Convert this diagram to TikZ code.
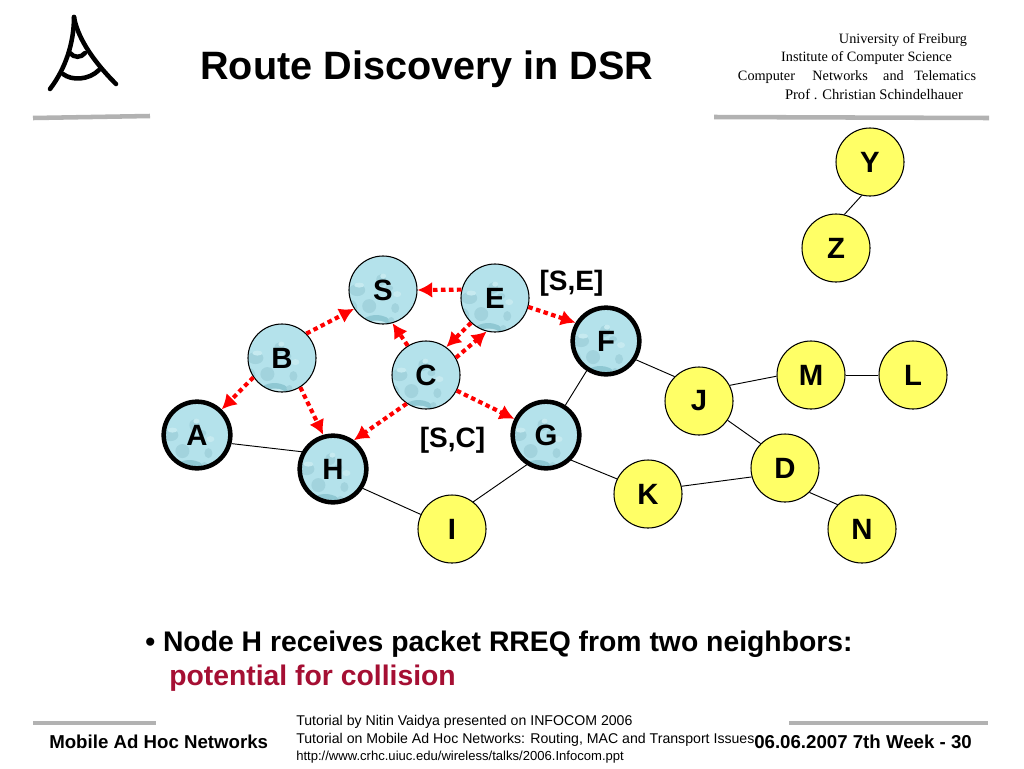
\documentclass[tikz,border=0pt]{standalone}
\usepackage{fontspec}
\setmainfont{Liberation Sans}
\newfontfamily\serifhead{Liberation Serif}
\usetikzlibrary{arrows.meta}
\definecolor{bubblebase}{HTML}{B4E2EB}
\definecolor{bubbledark}{HTML}{A2D3DD}
\definecolor{bubbledeep}{HTML}{8FC8D3}
\definecolor{bubblelight}{HTML}{C6EAF0}
\definecolor{nodeyellow}{HTML}{FFFF66}
\definecolor{barGray}{HTML}{B2B2B2}
\definecolor{accent}{HTML}{A50F33}
\newcommand{\bubblefill}{%
  \begin{scope}[shift={(path picture bounding box.center)}]
    \fill[bubbledark] (-16,-10) ellipse (8 and 6);
    \fill[bubblelight] (-14,-15) ellipse (5 and 2.5);
    \fill[bubbledark] (8,-20) ellipse (5 and 6);
    \fill[bubblelight] (10,-24) ellipse (3 and 2.5);
    \fill[bubbledark] (-22,8) ellipse (6 and 8);
    \fill[bubbledark] (-4,6) ellipse (7 and 7);
    \fill[bubbledeep] (3,22) ellipse (14 and 7);
    \fill[bubblelight] (3,24) ellipse (10 and 3.5);
    \fill[bubbledark] (22,8) ellipse (4 and 5);
    \fill[bubblelight] (24,-6) ellipse (4 and 3);
    \fill[bubbledark] (16,-12) ellipse (4 and 3);
    \fill[bubbledark] (18,20) ellipse (3 and 3);
    \fill[bubblelight] (-12,20) ellipse (3 and 3);
  \end{scope}}
\tikzset{
  x=0.75pt,y=-0.75pt,
  netnode/.style={circle,draw=black,minimum size=51pt,inner sep=0pt,font=\fontsize{22}{22}\selectfont\bfseries},
  thin ring/.style={line width=0.8pt},
  heavy ring/.style={line width=3.4pt,minimum size=50pt},
  yellownode/.style={netnode,thin ring,fill=nodeyellow},
  bluenode/.style={netnode,thin ring,fill=bubblebase,path picture={\bubblefill}},
  bluebold/.style={netnode,heavy ring,fill=bubblebase,path picture={\bubblefill}},
  link/.style={draw=black,line width=0.7pt},
  rreq/.style={draw=red,line width=3.1pt,dash pattern=on 3.4pt off 2.6pt,-{Latex[length=11pt,width=12pt]}},
  bar/.style={draw=barGray,line width=3.4pt},
  logo/.style={draw=black,line width=3.4pt,line cap=round},
  txt/.style={anchor=base west,inner sep=0pt},
  headline/.style={anchor=base,inner sep=0pt,font=\serifhead\fontsize{10.7}{10.7}\selectfont},
  foot/.style={txt,font=\fontsize{10.6}{10.6}\selectfont},
  footbold/.style={txt,font=\fontsize{14}{14}\selectfont\bfseries},
  bodytext/.style={txt,font=\fontsize{21.25}{21.25}\selectfont\bfseries},
  pathlabel/.style={anchor=base,inner sep=0pt,font=\fontsize{21}{21}\selectfont\bfseries}
}
\begin{document}
\begin{tikzpicture}
\useasboundingbox (0,0) rectangle (1024,768);
\fill[white] (0,0) rectangle (1024,768);
% logo
\draw[logo] (74,17) .. controls (74,42) and (66,68) .. (50,89);
\draw[logo] (74,17) .. controls (77,35) and (90,58) .. (116,84);
\draw[logo] (70,53) .. controls (74,58) and (81,58) .. (85,53);
\draw[logo] (63,74) .. controls (72,81) and (89,80) .. (99,70);
% rules
\draw[bar] (33,118) -- (150,116);
\draw[bar] (714,117) -- (989,118);
\draw[bar] (33,723) -- (156,723);
\draw[bar] (789,723) -- (988,723);
% header
\node[txt,font=\fontsize{29.7}{29.7}\selectfont\bfseries] (title) at (200,79) {Route Discovery in DSR};
\node[headline] (h1) at (903,43) {University of Freiburg};
\node[headline] (h2) at (866.5,61) {Institute of Computer Science};
\node[headline] (h3) at (857,80) {Computer\hspace{13pt}Networks\hspace{11.5pt}and\hspace{8pt}Telematics};
\node[headline,font=\serifhead\fontsize{10.95}{10.95}\selectfont] (h4) at (874,99) {Prof . Christian Schindelhauer};
% nodes
\node[yellownode] (Y) at (870,162) {Y};
\node[yellownode] (Z) at (836,248) {Z};
\node[bluenode] (S) at (383,290) {S};
\node[bluenode] (E) at (495,298) {E};
\node[bluenode] (B) at (282,358) {B};
\node[bluenode] (C) at (426,375) {C};
\node[bluebold] (F) at (606,341) {F};
\node[bluebold] (A) at (197,435) {A};
\node[bluebold] (H) at (333,469) {H};
\node[bluebold] (G) at (546,435) {G};
\node[yellownode] (J) at (699,401) {J};
\node[yellownode] (M) at (811,375) {M};
\node[yellownode] (L) at (913,375) {L};
\node[yellownode] (D) at (785,468) {D};
\node[yellownode] (K) at (648,494) {K};
\node[yellownode] (I) at (452,529) {I};
\node[yellownode] (N) at (862,529) {N};
% links
\draw[link] (Y.256) -- (Z.76);
\draw[link] (F.237) -- (G.57);
\draw[link] (F.-32) -- (J.135);
\draw[link] (J.27) -- (M.182);
\draw[link] (M) -- (L);
\draw[link] (J.-34) -- (D.135);
\draw[link] (D.195) -- (K.13);
\draw[link] (D.-45) -- (N.135);
\draw[link] (G.-45) -- (K.154);
\draw[link] (G.237) -- (I.52);
\draw[link] (H.-33) -- (I.155);
\draw[link] (A.-14) -- (H.151);
% RREQ
\draw[rreq] (B.45) -- (S.213);
\draw[rreq] (E.166) -- (S.0);
\draw[rreq] (C.122) -- (S.-74);
\draw[rreq] (E.226) -- (C.54);
\draw[rreq] (C.30) -- (E.256);
\draw[rreq] (E.-15) -- (F.149);
\draw[rreq] (C.-27) -- (G.153);
\draw[rreq] (C.236) -- (H.54);
\draw[rreq] (B.214) -- (A.46);
\draw[rreq] (B.-58) -- (H.106);
% labels
\node[pathlabel] (se) at (571.5,290) {[S,E]};
\node[pathlabel] (sc) at (452.5,447) {[S,C]};
\node[bodytext] (b1) at (145,651) {• Node H receives packet RREQ from two neighbors:};
\node[bodytext,text=accent] (b2) at (169,685) {potential for collision};
\node[footbold] (f1) at (49,748) {Mobile Ad Hoc Networks};
\node[footbold] (f2) at (754,748) {06.06.2007 7th Week - 30};
\node[foot] (t1) at (296,725) {Tutorial by Nitin Vaidya presented on INFOCOM 2006};
\node[foot] (t2) at (296,743) {Tutorial on Mobile Ad Hoc Networks: Routing, MAC and Transport Issues};
\node[foot,font=\fontsize{9.8}{9.8}\selectfont] (t3) at (296,760) {http://www.crhc.uiuc.edu/wireless/talks/2006.Infocom.ppt};
\end{tikzpicture}
\end{document}
